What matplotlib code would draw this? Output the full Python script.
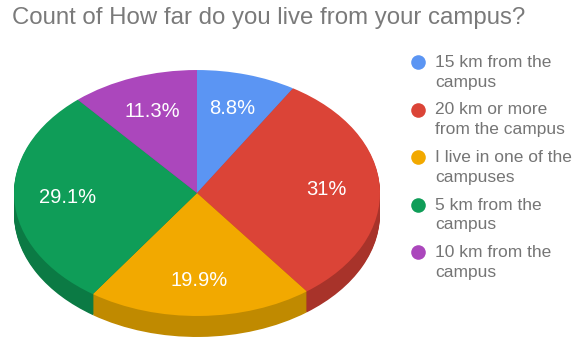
import matplotlib.pyplot as plt
from matplotlib.transforms import Affine2D

# data
legend_labels = ["15 km from the\ncampus", "20 km or more\nfrom the campus",
                 "I live in one of the\ncampuses", "5 km from the\ncampus",
                 "10 km from the\ncampus"]
shares = [8.8, 31.0, 19.9, 29.1, 11.3]
pct_labels = ["8.8%", "31%", "19.9%", "29.1%", "11.3%"]
colors = ["#5b95f3", "#db4437", "#f2a900", "#0f9d58", "#ab47bc"]
side_colors = ["#4575c4", "#a8332a", "#c08a00", "#0b7a44", "#863797"]

FONT = ["Liberation Sans", "DejaVu Sans"]
W, H = 586, 349
cx, cy = 197, 193          # pie centre, pixels from top-left
radius = 183
squash = 0.672
depth = 21

fig = plt.figure(figsize=(W / 100, H / 100), dpi=100)
ax = fig.add_axes([0, 0, 1, 1])


def squashed(shift):
    return Affine2D().scale(1, squash).translate(0, -shift) + ax.transData


# side of the 3d pie: stacked darker layers
for s in range(depth, 0, -1):
    wedges, _ = ax.pie(shares, colors=side_colors, radius=radius,
                       startangle=90, counterclock=False,
                       wedgeprops=dict(linewidth=0))
    for w in wedges:
        w.set_transform(squashed(s))

# top face
it = iter(pct_labels)
wedges, _, autotexts = ax.pie(shares, colors=colors, radius=radius,
                              startangle=90, counterclock=False,
                              autopct=lambda p: next(it), pctdistance=0.71,
                              wedgeprops=dict(linewidth=0),
                              textprops=dict(color="white", fontsize=14.5,
                                             family=FONT))
for w in wedges:
    w.set_transform(squashed(0))
for t in autotexts:
    t.set_transform(squashed(0))

ax.set_xlim(-cx, W - cx)
ax.set_ylim(-(H - cy), cy)
ax.set_aspect("equal")
ax.axis("off")

fig.text(12 / W, 1 - 18 / H, "Count of How far do you live from your campus?",
         ha="left", va="center", fontsize=17.3, color="#7a7a7a", family=FONT)

# legend
for i, lbl in enumerate(legend_labels):
    y = 62 + i * 47.5
    ax.plot(418 - cx, cy - y, "o", markersize=10.5, color=colors[i],
            markeredgewidth=0)
    ax.text(435 - cx, cy - y + 7, lbl, ha="left", va="top", fontsize=12.5,
            color="#757575", family=FONT, linespacing=1.4)

fig.savefig("out.png", dpi=100)
